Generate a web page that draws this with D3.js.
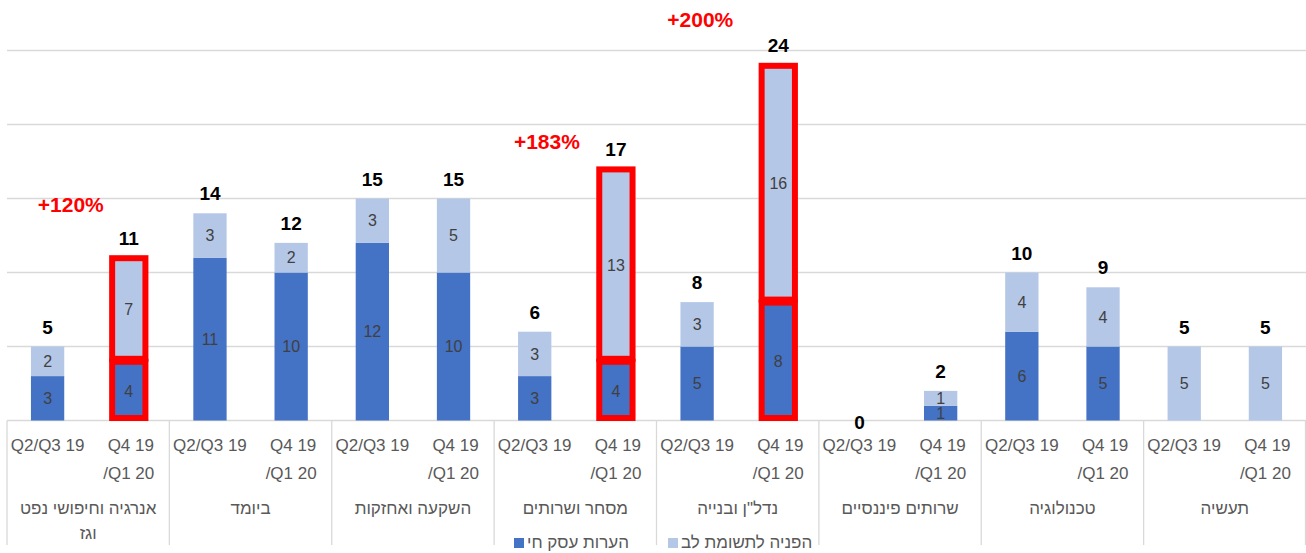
<!DOCTYPE html>
<meta charset="utf-8">
<style>
    body { margin: 0; background: #fff; }
    text { font-family: "Liberation Sans", "DejaVu Sans", sans-serif; }
    .grid line { stroke: #d9d9d9; stroke-width: 1.3px; }
    .sep { stroke: #d9d9d9; stroke-width: 1.3px; }
    .qlabel { fill: #595959; font-size: 17px; }
    .glabel { fill: #595959; font-size: 17px; }
    .inlabel { fill: #404040; font-size: 16px; }
    .total { fill: #000; font-size: 19px; font-weight: bold; }
    .pct { fill: #ff0000; font-size: 21px; font-weight: bold; }
</style>
<svg width="1306" height="553"></svg>
<script src="https://cdn.jsdelivr.net/npm/d3@7"></script>
<script>

    // sectors, left to right
    var sectors = ["אנרגיה וחיפושי נפט וגז", "ביומד", "השקעה ואחזקות", "מסחר ושרותים",
                   "נדל\"ן ובנייה", "שרותים פיננסיים", "טכנולוגיה", "תעשיה"];
    var periods = ["Q2/Q3 19", "Q4 19/Q1 20"];
    var seriesNames = ["הערות עסק חי", "הפניה לתשומת לב"];

    // values per sector: [first period, second period]
    var goingConcern = [[3, 4], [11, 10], [12, 10], [3, 4], [5, 8], [0, 1], [6, 5], [0, 0]];
    var attention    = [[2, 7], [3, 2], [3, 5], [3, 13], [3, 16], [0, 1], [4, 4], [5, 5]];

    // highlighted bars (sector index, period index) with growth labels
    var highlights = [
        {sector: 0, period: 1, label: "+120%"},
        {sector: 3, period: 1, label: "+183%"},
        {sector: 4, period: 1, label: "+200%"}
    ];

    var yTicks = [0, 5, 10, 15, 20, 25];

    var svg = d3.select("svg"),
        left = 7, right = 1306, base = 420.5;

    var bars = [];
    sectors.forEach(function(s, i) {
        periods.forEach(function(p, j) {
            var hl = highlights.filter(function(h) { return h.sector === i && h.period === j; })[0];
            bars.push({key: i * 2 + j, sector: i, period: j, a: goingConcern[i][j], b: attention[i][j], hl: hl});
        });
    });

    var x = d3.scaleBand().domain(bars.map(function(d) { return d.key; }))
        .range([left, right]).paddingInner(0.59).paddingOuter(0.295);
    var xg = d3.scaleBand().domain(d3.range(sectors.length)).range([left, right]);
    var y = d3.scaleLinear().domain([0, 25]).range([base, 50.5]);
    var colors = ["#4472c4", "#b4c7e7"];

    // gridlines
    svg.append("g").attr("class", "grid")
        .selectAll("line").data(yTicks).enter().append("line")
        .attr("x1", left).attr("x2", right)
        .attr("y1", function(d) { return y(d); }).attr("y2", function(d) { return y(d); });

    // group separators
    svg.selectAll(".sep").data(d3.range(sectors.length + 1)).enter().append("line")
        .attr("class", "sep")
        .attr("x1", function(d) { return d < sectors.length ? xg(d) : right - 0.5; })
        .attr("x2", function(d) { return d < sectors.length ? xg(d) : right - 0.5; })
        .attr("y1", base).attr("y2", 545);

    var bar = svg.selectAll(".bar").data(bars).enter().append("g").attr("class", "bar");

    // segments
    bar.each(function(d) {
        var g = d3.select(this);
        var segs = [{v0: 0, v1: d.a, v: d.a, c: 0}, {v0: d.a, v1: d.a + d.b, v: d.b, c: 1}];
        segs.forEach(function(s) {
            if (s.v === 0) return;
            var r = g.append("rect")
                .attr("x", x(d.key))
                .attr("width", x.bandwidth())
                .attr("y", y(s.v1))
                .attr("height", y(s.v0) - y(s.v1))
                .attr("fill", colors[s.c]);
            if (d.hl) {
                r.attr("y", y(s.v1) + 0.5).attr("height", y(s.v0) - y(s.v1) - 3)
                 .attr("stroke", "#ff0000").attr("stroke-width", 6);
            }
            g.append("text").attr("class", "inlabel")
                .attr("x", x(d.key) + x.bandwidth() / 2)
                .attr("y", (y(s.v0) + y(s.v1)) / 2)
                .attr("dy", "0.35em")
                .attr("text-anchor", "middle")
                .text(s.v);
        });
        var tot = d.a + d.b;
        g.append("text").attr("class", "total")
            .attr("x", x(d.key) + x.bandwidth() / 2)
            .attr("y", tot === 0 ? base + 8 : y(tot) - 13)
            .attr("text-anchor", "middle")
            .text(tot);
    });

    // growth labels
    var pctOffset = [[-58, -46], [-69, -20], [-78, -38]];
    highlights.forEach(function(h, i) {
        var k = h.sector * 2 + h.period;
        var tot = goingConcern[h.sector][h.period] + attention[h.sector][h.period];
        svg.append("text").attr("class", "pct")
            .attr("x", x(k) + x.bandwidth() / 2 + pctOffset[i][0])
            .attr("y", y(tot) + pctOffset[i][1])
            .attr("text-anchor", "middle")
            .text(h.label);
    });

    // period labels
    bars.forEach(function(d) {
        var cx = x(d.key) + x.bandwidth() / 2;
        var t = svg.append("text").attr("class", "qlabel")
            .attr("x", cx)
            .attr("y", 451)
            .attr("text-anchor", "middle");
        if (d.period === 0) {
            t.text(periods[0]);
        } else {
            var parts = periods[1].split("/");
            t.append("tspan").attr("x", cx + 2).text(parts[0]);
            t.append("tspan").attr("x", cx).attr("dy", 28).text("/" + parts[1]);
        }
    });

    // sector labels
    sectors.forEach(function(s, i) {
        var cx = xg(i) + xg.bandwidth() / 2;
        var t = svg.append("text").attr("class", "glabel")
            .attr("x", cx).attr("y", 514).attr("text-anchor", "middle");
        if (i === 0) {
            t.append("tspan").attr("x", cx).text("אנרגיה וחיפושי נפט");
            t.append("tspan").attr("x", cx).attr("dy", 25).text("וגז");
        } else {
            t.text(s);
        }
    });

    // legend
    var legendX = [514, 668];
    seriesNames.forEach(function(n, i) {
        svg.append("rect").attr("x", legendX[i]).attr("y", 538)
            .attr("width", 10).attr("height", 10).attr("fill", colors[i]);
        svg.append("text").attr("class", "glabel")
            .attr("x", legendX[i] + 13).attr("y", 548)
            .attr("text-anchor", "start")
            .text(n);
    });

</script>
